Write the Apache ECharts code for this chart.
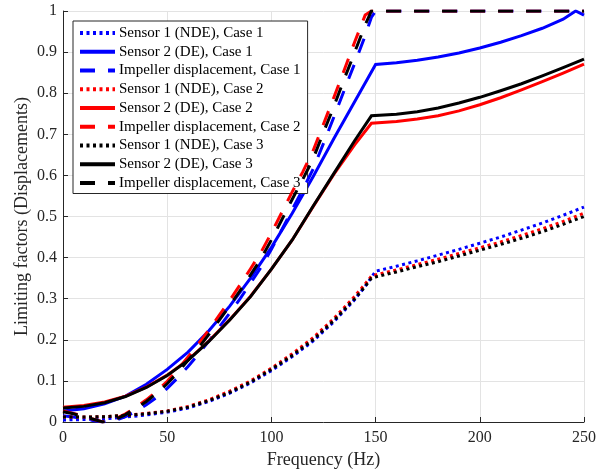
<!DOCTYPE html>
<html>
<head>
<meta charset="utf-8">
<script src="https://cdn.jsdelivr.net/npm/echarts@6/dist/echarts.min.js"></script>
<style>html,body{margin:0;padding:0;background:#fff;}#c{width:611px;height:475px;}</style>
</head>
<body>
<div id="c"></div>
<script>
// ---- data ----
const xTicks = [0, 50, 100, 150, 200, 250];
const yTicks = [0, 0.1, 0.2, 0.3, 0.4, 0.5, 0.6, 0.7, 0.8, 0.9, 1];

// Sensor 1 (NDE) dotted curves
const freqS1 = [0,10,20,30,40,50,60,70,80,90,100,110,120,130,140,145,148,150,160,170,180,190,200,210,220,230,240,250];
const s1Case1 = [0.005,0.006,0.008,0.012,0.017,0.024,0.034,0.05,0.07,0.095,0.125,0.159,0.197,0.244,0.298,0.33,0.352,0.367,0.379,0.392,0.406,0.42,0.435,0.45,0.467,0.484,0.503,0.523];
const s1Case2 = [0.012,0.012,0.013,0.016,0.021,0.027,0.038,0.054,0.075,0.1,0.131,0.166,0.205,0.252,0.306,0.336,0.355,0.358,0.37,0.383,0.396,0.41,0.424,0.438,0.454,0.47,0.488,0.508];
const s1Case3 = [0.012,0.012,0.013,0.016,0.02,0.026,0.036,0.052,0.072,0.097,0.128,0.162,0.2,0.247,0.3,0.33,0.35,0.353,0.365,0.378,0.39,0.404,0.418,0.432,0.447,0.463,0.481,0.5];

// Sensor 2 (DE) solid curves
const freqS2C1 = [0,10,20,30,40,50,60,70,80,90,100,110,120,130,140,145,150,160,170,180,190,200,210,220,230,240,246,250];
const s2Case1 = [0.027,0.032,0.044,0.063,0.092,0.128,0.17,0.222,0.282,0.35,0.425,0.508,0.597,0.69,0.78,0.825,0.87,0.874,0.88,0.888,0.898,0.91,0.924,0.94,0.958,0.98,1.0,0.99];
const freqS2C23 = [0,10,20,30,40,50,60,70,80,90,100,110,120,130,140,148,160,170,180,190,200,210,220,230,240,250];
const s2Case2 = [0.036,0.04,0.049,0.063,0.085,0.114,0.151,0.197,0.249,0.306,0.372,0.443,0.524,0.603,0.675,0.727,0.731,0.737,0.745,0.757,0.772,0.789,0.808,0.828,0.849,0.871];
const s2Case3 = [0.034,0.038,0.047,0.062,0.084,0.113,0.15,0.196,0.248,0.305,0.372,0.443,0.525,0.605,0.685,0.745,0.749,0.755,0.764,0.776,0.79,0.806,0.823,0.842,0.862,0.883];

// Impeller displacement dashed curves
const freqImp = [0,5,10,15,19,25,30,35,40,45,50,55,60,65,70,75,80,85,90,95,100,105,110,115,120,125,130,135,140,145,148,150,200,250];
const impCase1 = [0.015,0.012,0.008,0.003,0.0,0.004,0.013,0.026,0.042,0.06,0.082,0.107,0.135,0.165,0.197,0.231,0.265,0.3,0.338,0.376,0.42,0.468,0.517,0.565,0.615,0.678,0.742,0.808,0.873,0.94,0.985,1.0,1.0,1.0];
const impCase2 = [0.027,0.021,0.014,0.006,0.0,0.007,0.02,0.036,0.054,0.075,0.099,0.127,0.158,0.19,0.224,0.26,0.296,0.334,0.373,0.413,0.46,0.51,0.56,0.608,0.66,0.725,0.79,0.857,0.925,0.99,1.0,1.0,1.0,1.0];
const impCase3 = [0.025,0.02,0.013,0.006,0.0,0.006,0.018,0.033,0.05,0.07,0.093,0.12,0.15,0.18,0.213,0.248,0.283,0.32,0.358,0.397,0.443,0.492,0.542,0.59,0.64,0.705,0.768,0.835,0.9,0.966,1.0,1.0,1.0,1.0];

const seriesNames = [
  'Sensor 1 (NDE), Case 1','Sensor 2 (DE), Case 1','Impeller displacement, Case 1',
  'Sensor 1 (NDE), Case 2','Sensor 2 (DE), Case 2','Impeller displacement, Case 2',
  'Sensor 1 (NDE), Case 3','Sensor 2 (DE), Case 3','Impeller displacement, Case 3'
];
const colors = ['#0000ff', '#ff0000', '#000000'];

// ---- build ----
const zip = (xs, ys) => xs.map((x, i) => [x, ys[i]]);
const curves = [
  [freqS1, s1Case1, 'dotted'], [freqS2C1, s2Case1, 'solid'], [freqImp, impCase1, 'dashed'],
  [freqS1, s1Case2, 'dotted'], [freqS2C23, s2Case2, 'solid'], [freqImp, impCase2, 'dashed'],
  [freqS1, s1Case3, 'dotted'], [freqS2C23, s2Case3, 'solid'], [freqImp, impCase3, 'dashed']
];
const dashFor = { dotted: [3, 3.5], dashed: [15, 13], solid: 'solid' };
const series = curves.map((c, i) => ({
  name: seriesNames[i],
  type: 'line',
  data: zip(c[0], c[1]),
  symbol: 'none',
  showSymbol: false,
  smooth: false,
  clip: true,
  lineStyle: { color: colors[Math.floor(i / 3)], width: 3, type: dashFor[c[2]], cap: 'butt', join: 'miter' },
  itemStyle: { color: colors[Math.floor(i / 3)] },
  z: 2 + i
}));

const font = 'Liberation Serif, Times New Roman, serif';
const chart = echarts.init(document.getElementById('c'), null, { renderer: 'canvas' });
chart.setOption({
  animation: false,
  backgroundColor: '#ffffff',
  grid: { left: 63, right: 27, top: 11, bottom: 53, containLabel: false },
  legend: {
    orient: 'vertical',
    left: 73, top: 21,
    padding: [4.5, 7, 3, 5],
    itemWidth: 35, itemHeight: 14, itemGap: 3.75,
    backgroundColor: '#ffffff',
    borderColor: '#262626', borderWidth: 1, borderRadius: 0,
    itemStyle: { opacity: 0, color: 'rgba(0,0,0,0)', borderWidth: 0 },
    lineStyle: { width: 4 },
    textStyle: { fontFamily: font, fontSize: 15, color: '#000000', padding: [0, 0, 0, -1] },
    data: seriesNames
  },
  xAxis: {
    type: 'value', min: xTicks[0], max: xTicks[xTicks.length - 1], interval: 50,
    name: 'Frequency (Hz)', nameLocation: 'middle', nameGap: 29, nameMoveOverlap: false,
    nameTextStyle: { fontFamily: font, fontSize: 18, color: '#262626' },
    axisLine: { show: true, onZero: false, lineStyle: { color: '#262626', width: 1 } },
    axisTick: { show: true, inside: true, length: 5, lineStyle: { color: '#262626' } },
    axisLabel: { fontFamily: font, fontSize: 16, color: '#262626', margin: 8 },
    splitLine: { show: true, lineStyle: { color: '#e3e3e3', width: 1 } }
  },
  yAxis: {
    type: 'value', min: yTicks[0], max: yTicks[yTicks.length - 1], interval: 0.1,
    name: 'Limiting factors (Displacements)', nameLocation: 'middle', nameGap: 32, nameMoveOverlap: false,
    nameTextStyle: { fontFamily: font, fontSize: 18, color: '#262626' },
    axisLine: { show: true, onZero: false, lineStyle: { color: '#262626', width: 1 } },
    axisTick: { show: true, inside: true, length: 5, lineStyle: { color: '#262626' } },
    axisLabel: { fontFamily: font, fontSize: 16, color: '#262626', margin: 6,
      formatter: v => String(Math.round(v * 10) / 10) },
    splitLine: { show: true, lineStyle: { color: '#e3e3e3', width: 1 } }
  },
  series: series
});
</script>
</body>
</html>
